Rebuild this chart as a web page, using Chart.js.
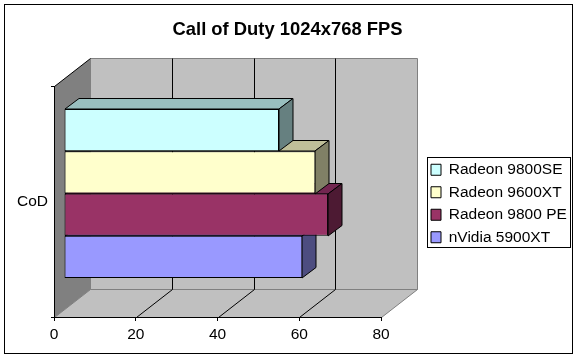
<!DOCTYPE html>
<html>
<head>
<meta charset="utf-8">
<style>
    html, body { margin: 0; padding: 0; background: #fff; }
</style>
<script src="https://cdn.jsdelivr.net/npm/chart.js@4"></script>
</head>
<body>
<canvas id="graphique" width="575" height="355"></canvas>
<script>
const categories = ['CoD'];
const seriesNames = ['Radeon 9800SE', 'Radeon 9600XT', 'Radeon 9800 PE', 'nVidia 5900XT'];
const radeon9800se = [52.6];
const radeon9600xt = [61.5];
const radeon9800pe = [64.6];
const nvidia5900xt = [58.3];
const xTicks = [0, 20, 40, 60, 80];

const frontColors = ['#CCFFFF', '#FFFFCC', '#993366', '#9999FF'];
const topColors = ['#99BFBF', '#BFBF99', '#732650', '#7373BF'];
const sideColors = ['#668080', '#808066', '#4D1A33', '#4D4D80'];

// profondeur du "faux 3D" d'Excel
const wallDx = 36, wallDy = 28;
const barShiftX = 10, barShiftY = 8;
const barDx = 14, barDy = 10.5;

function poly(ctx, pts, fill, stroke) {
    ctx.beginPath();
    pts.forEach((p, i) => i ? ctx.lineTo(p[0], p[1]) : ctx.moveTo(p[0], p[1]));
    ctx.closePath();
    if (fill) {
        ctx.fillStyle = fill;
        ctx.fill();
    }
    if (stroke) {
        ctx.strokeStyle = stroke;
        ctx.lineWidth = 1;
        ctx.stroke();
    }
}

function line(ctx, x1, y1, x2, y2, color) {
    ctx.beginPath();
    ctx.moveTo(x1, y1);
    ctx.lineTo(x2, y2);
    ctx.strokeStyle = color;
    ctx.lineWidth = 1;
    ctx.stroke();
}

const walls = {
    id: 'walls',
    beforeLayout(chart) {
        // largeur fixe de la légende, sinon Chart.js la limite
        const legend = chart.legend;
        if (!legend.fitOriginal) {
            legend.fitOriginal = legend.fit;
            legend.fit = function () {
                this.fitOriginal();
                this.width = 151;
            };
        }
    },
    afterLayout(chart) {
        // la légende est un peu plus bas que le centre du graphique
        chart.legend.top += 2;
        chart.legend.bottom += 2;
    },
    beforeDraw(chart) {
        const ctx = chart.ctx;
        const a = chart.chartArea;
        const l = Math.round(a.left) + 0.5, r = Math.round(a.right) + 0.5;
        const t = Math.round(a.top) + 0.5, b = Math.round(a.bottom) + 0.5;

        ctx.save();
        ctx.fillStyle = '#fff';
        ctx.fillRect(0, 0, 575, 355);
        // cadre du graphique
        ctx.strokeStyle = '#000';
        ctx.lineWidth = 1;
        ctx.strokeRect(4.5, 4.5, 568, 349);

        // fond, sol, mur gauche
        poly(ctx, [[l + wallDx, t - wallDy], [r + wallDx, t - wallDy], [r + wallDx, b - wallDy], [l + wallDx, b - wallDy]], '#C0C0C0', '#808080');
        poly(ctx, [[l, b], [r, b], [r + wallDx, b - wallDy], [l + wallDx, b - wallDy]], '#C0C0C0', '#808080');
        poly(ctx, [[l, t], [l + wallDx, t - wallDy], [l + wallDx, b - wallDy], [l, b]], '#808080');
        line(ctx, l, t, l + wallDx, t - wallDy, '#000');

        // quadrillage
        xTicks.slice(1, -1).forEach(v => {
            const x = Math.round(chart.scales.x.getPixelForValue(v)) + 0.5;
            line(ctx, x, b, x + wallDx, b - wallDy, '#000');
            line(ctx, x + wallDx, b - wallDy, x + wallDx, t - wallDy, '#000');
        });

        // cadre de la légende
        ctx.strokeRect(427.5, 157.5, 143, 90);
        ctx.restore();
    },
    beforeDatasetDraw(chart, args) {
        const ctx = chart.ctx;
        const i = args.index;
        const bar = args.meta.data[0];
        const p = bar.getProps(['x', 'y', 'base', 'height']);
        const x0 = Math.round(p.base), x1 = Math.round(p.x);
        const y0 = Math.round(p.y - p.height / 2), y1 = Math.round(p.y + p.height / 2);

        ctx.save();
        ctx.translate(barShiftX, -barShiftY);
        poly(ctx, [[x0, y0], [x1, y0], [x1 + barDx, y0 - barDy], [x0 + barDx, y0 - barDy]], topColors[i], '#000');
        poly(ctx, [[x1, y0], [x1 + barDx, y0 - barDy], [x1 + barDx, y1 - barDy], [x1, y1]], sideColors[i], '#000');
    },
    afterDatasetDraw(chart) {
        chart.ctx.restore();
    }
};

new Chart(document.getElementById('graphique').getContext('2d'), {
    type: 'bar',
    data: {
        labels: categories,
        datasets: [
            { label: seriesNames[0], data: radeon9800se, backgroundColor: frontColors[0] },
            { label: seriesNames[1], data: radeon9600xt, backgroundColor: frontColors[1] },
            { label: seriesNames[2], data: radeon9800pe, backgroundColor: frontColors[2] },
            { label: seriesNames[3], data: nvidia5900xt, backgroundColor: frontColors[3] }
        ].map(d => Object.assign(d, {
            borderColor: '#000',
            borderWidth: 1,
            borderSkipped: false,
            categoryPercentage: 0.7316,
            barPercentage: 1,
            clip: false
        }))
    },
    options: {
        indexAxis: 'y',
        responsive: false,
        animation: false,
        layout: { padding: 0 },
        scales: {
            x: {
                min: 0,
                max: 80,
                afterBuildTicks(scale) {
                    scale.ticks = xTicks.map(v => ({ value: v }));
                },
                afterFit(scale) { scale.height = 38; },
                border: { color: '#000' },
                grid: { drawOnChartArea: false, color: '#000', tickLength: 4 },
                ticks: {
                    color: '#000',
                    padding: 4,
                    maxRotation: 0,
                    font: { size: 15.5, family: '"Liberation Sans", Arial, sans-serif' }
                }
            },
            y: {
                afterFit(scale) { scale.width = 54; },
                border: { color: '#000' },
                grid: { drawOnChartArea: false, color: '#000', tickLength: 3 },
                ticks: {
                    color: '#000',
                    padding: 3,
                    font: { size: 15.5, family: '"Liberation Sans", Arial, sans-serif' }
                }
            },
            // réserve la place entre le graphique et la légende
            spacer: {
                type: 'linear',
                position: 'right',
                afterFit(scale) { scale.width = 43; },
                border: { display: false },
                grid: { display: false },
                ticks: { display: false }
            }
        },
        plugins: {
            title: {
                display: true,
                text: 'Call of Duty 1024x768 FPS',
                color: '#000',
                font: { size: 18.4, weight: 'bold', family: '"Liberation Sans", Arial, sans-serif' },
                padding: { top: 19, bottom: 44.92 }
            },
            legend: {
                position: 'right',
                fullSize: false,
                labels: {
                    color: '#000',
                    boxWidth: 10,
                    boxHeight: 11,
                    padding: 7,
                    font: { size: 15.5, family: '"Liberation Sans", Arial, sans-serif' }
                }
            },
            tooltip: { enabled: false }
        }
    },
    plugins: [walls]
});
</script>
</body>
</html>
